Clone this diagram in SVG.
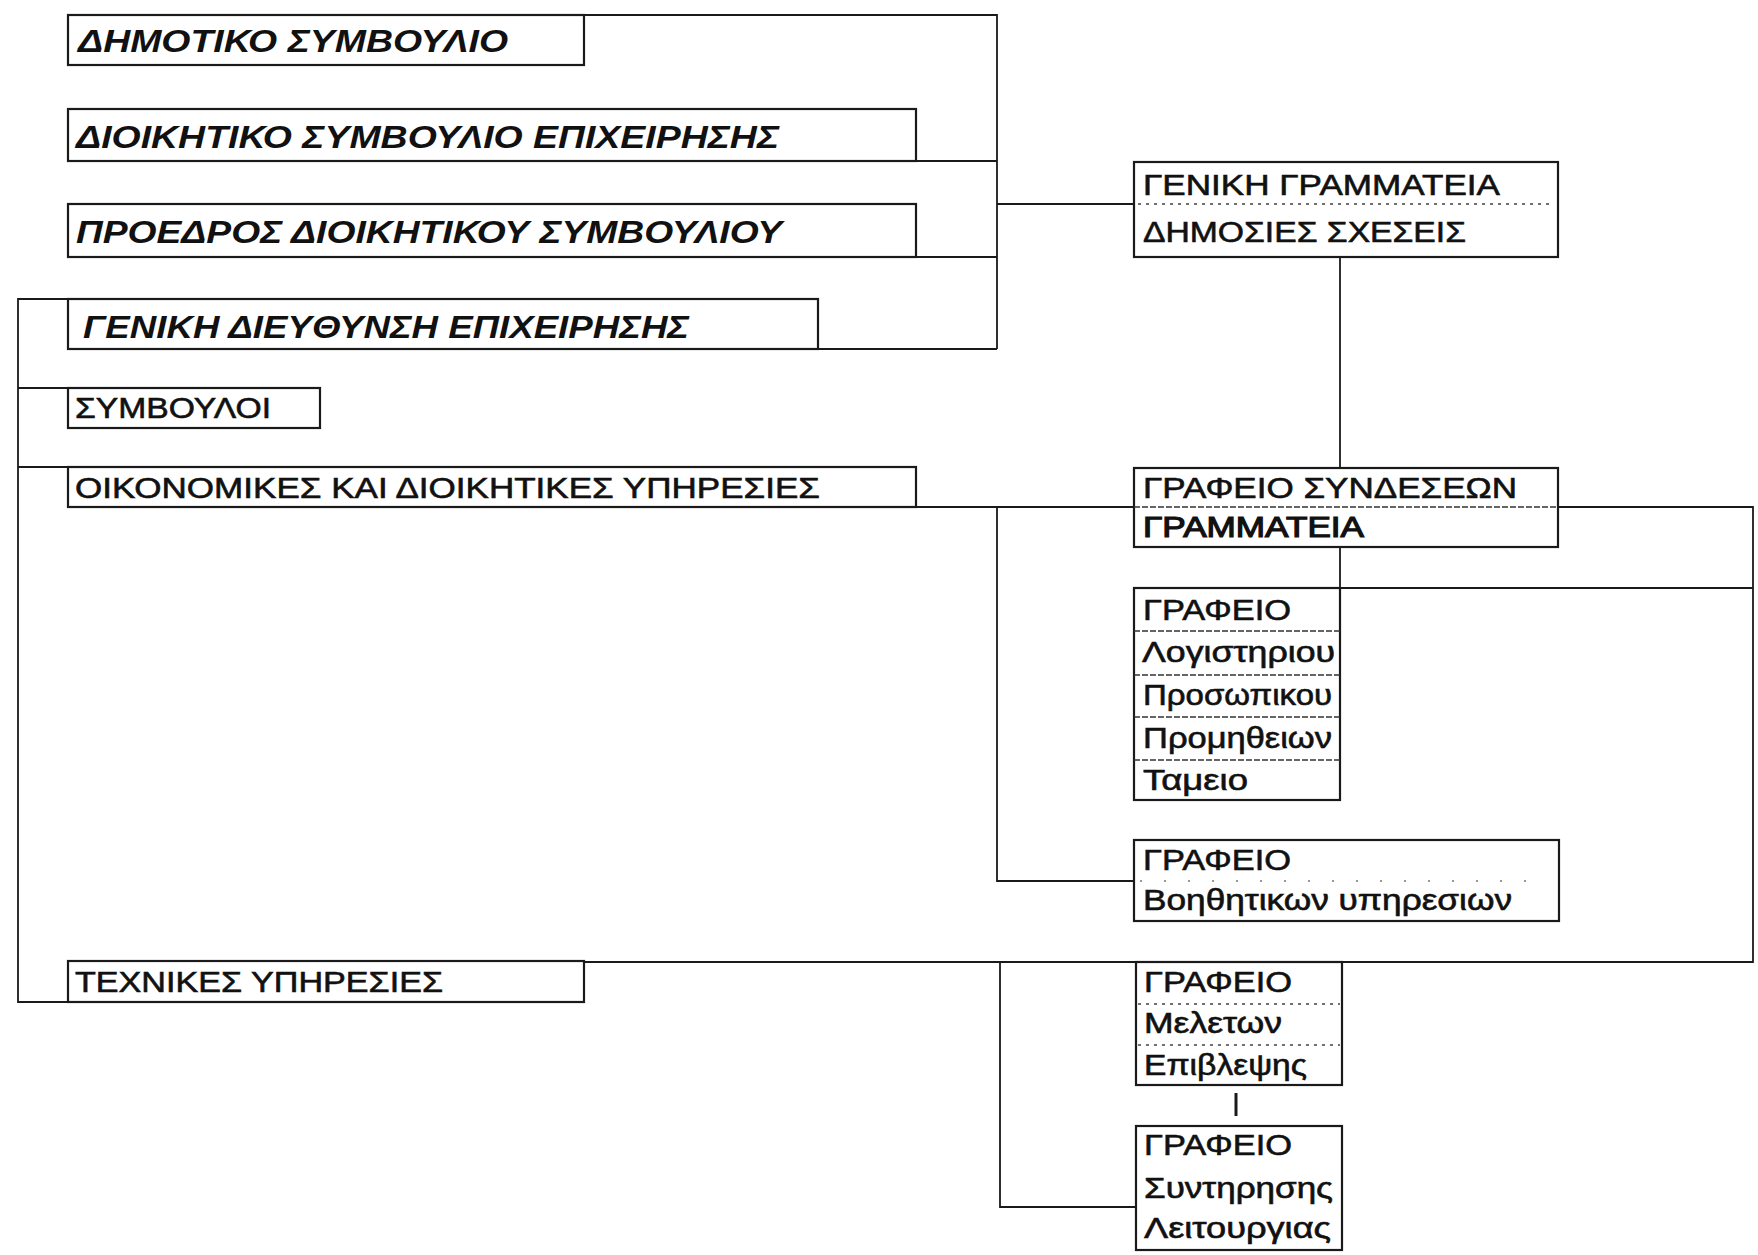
<svg xmlns="http://www.w3.org/2000/svg" width="1758" height="1255" viewBox="0 0 1758 1255">
<style>
.bg{fill:#ffffff}
.box{fill:#ffffff;stroke:#1a1a1a;stroke-width:2.2}
.con{fill:none;stroke:#1a1a1a;stroke-width:1.8}
.div{stroke:#333;stroke-width:1.5;stroke-dasharray:6 2}
.dot{stroke:#444;stroke-width:1.4;stroke-dasharray:3 5}
.it{font-family:"Liberation Sans",Arial,sans-serif;font-style:italic;font-weight:bold;font-size:32px;fill:#111}
.up{font-family:"Liberation Sans",Arial,sans-serif;font-size:29px;fill:#111;stroke:#111;stroke-width:0.6}
</style>
<rect class="bg" x="0" y="0" width="1758" height="1255"/>
<g id="connectors">
<path class="con" d="M584,15 H997 V349"/>
<path class="con" d="M916,161 H997"/>
<path class="con" d="M916,257 H997"/>
<path class="con" d="M818,349 H997"/>
<path class="con" d="M997,204 H1134"/>
<path class="con" d="M68,299 H18 V1002 H68"/>
<path class="con" d="M18,388 H68"/>
<path class="con" d="M18,467 H68"/>
<path class="con" d="M916,507 H1134"/>
<path class="con" d="M1558,507 H1753 V962 H584"/>
<path class="con" d="M997,507 V881 H1134"/>
<path class="con" d="M1340,257 V468"/>
<path class="con" d="M1340,547 V588 H1753"/>
<path class="con" d="M1000,962 V1207 H1136"/>
<path class="con" d="M1236,1093 V1116" style="stroke-width:3"/>
</g>
<g id="n1">
<rect class="box" x="68" y="15" width="516" height="50"/>
<text class="it" x="78" y="52" textLength="430" lengthAdjust="spacingAndGlyphs">ΔΗΜΟΤΙΚΟ ΣΥΜΒΟΥΛΙΟ</text>
</g>
<g id="n2">
<rect class="box" x="68" y="109" width="848" height="52"/>
<text class="it" x="76" y="148" textLength="703" lengthAdjust="spacingAndGlyphs">ΔΙΟΙΚΗΤΙΚΟ ΣΥΜΒΟΥΛΙΟ ΕΠΙΧΕΙΡΗΣΗΣ</text>
</g>
<g id="n3">
<rect class="box" x="68" y="204" width="848" height="53"/>
<text class="it" x="76" y="243" textLength="706" lengthAdjust="spacingAndGlyphs">ΠΡΟΕΔΡΟΣ ΔΙΟΙΚΗΤΙΚΟΥ ΣΥΜΒΟΥΛΙΟΥ</text>
</g>
<g id="n4">
<rect class="box" x="68" y="299" width="750" height="50"/>
<text class="it" x="83" y="338" textLength="606" lengthAdjust="spacingAndGlyphs">ΓΕΝΙΚΗ ΔΙΕΥΘΥΝΣΗ ΕΠΙΧΕΙΡΗΣΗΣ</text>
</g>
<g id="n5">
<rect class="box" x="68" y="388" width="252" height="40"/>
<text class="up" x="75" y="418" textLength="196" lengthAdjust="spacingAndGlyphs">ΣΥΜΒΟΥΛΟΙ</text>
</g>
<g id="n6">
<rect class="box" x="68" y="467" width="848" height="40"/>
<text class="up" x="75" y="498" textLength="745" lengthAdjust="spacingAndGlyphs">ΟΙΚΟΝΟΜΙΚΕΣ ΚΑΙ ΔΙΟΙΚΗΤΙΚΕΣ ΥΠΗΡΕΣΙΕΣ</text>
</g>
<g id="n7">
<rect class="box" x="68" y="961" width="516" height="41"/>
<text class="up" x="75" y="992" textLength="368" lengthAdjust="spacingAndGlyphs">ΤΕΧΝΙΚΕΣ ΥΠΗΡΕΣΙΕΣ</text>
</g>
<g id="n8">
<rect class="box" x="1134" y="162" width="424" height="95"/>
<line class="dot" x1="1138" y1="204" x2="1554" y2="204"/>
<text class="up" x="1143" y="195" textLength="357" lengthAdjust="spacingAndGlyphs">ΓΕΝΙΚΗ ΓΡΑΜΜΑΤΕΙΑ</text>
<text class="up" x="1143" y="242" textLength="323" lengthAdjust="spacingAndGlyphs">ΔΗΜΟΣΙΕΣ ΣΧΕΣΕΙΣ</text>
</g>
<g id="n9">
<rect class="box" x="1134" y="468" width="424" height="79"/>
<line class="div" x1="1134" y1="507" x2="1558" y2="507"/>
<text class="up" x="1143" y="498" textLength="374" lengthAdjust="spacingAndGlyphs">ΓΡΑΦΕΙΟ ΣΥΝΔΕΣΕΩΝ</text>
<text class="up" x="1143" y="537" textLength="221" lengthAdjust="spacingAndGlyphs" style="stroke-width:1.2">ΓΡΑΜΜΑΤΕΙΑ</text>
</g>
<g id="n10">
<rect class="box" x="1134" y="588" width="206" height="212"/>
<line class="div" x1="1134" y1="631" x2="1340" y2="631"/>
<line class="div" x1="1134" y1="675" x2="1340" y2="675"/>
<line class="div" x1="1134" y1="717" x2="1340" y2="717"/>
<line class="div" x1="1134" y1="760" x2="1340" y2="760"/>
<text class="up" x="1143" y="620" textLength="148" lengthAdjust="spacingAndGlyphs">ΓΡΑΦΕΙΟ</text>
<text class="up" x="1142" y="662" textLength="193" lengthAdjust="spacingAndGlyphs">Λογιστηριου</text>
<text class="up" x="1143" y="705" textLength="189" lengthAdjust="spacingAndGlyphs">Προσωπικου</text>
<text class="up" x="1143" y="748" textLength="189" lengthAdjust="spacingAndGlyphs">Προμηθειων</text>
<text class="up" x="1143" y="790" textLength="105" lengthAdjust="spacingAndGlyphs">Ταμειο</text>
</g>
<g id="n11">
<rect class="box" x="1134" y="840" width="425" height="81"/>
<line class="dot" x1="1140" y1="881" x2="1545" y2="881" style="stroke-dasharray:2 22;stroke:#777"/>
<text class="up" x="1143" y="870" textLength="148" lengthAdjust="spacingAndGlyphs">ΓΡΑΦΕΙΟ</text>
<text class="up" x="1143" y="910" textLength="369" lengthAdjust="spacingAndGlyphs">Βοηθητικων υπηρεσιων</text>
</g>
<g id="n12">
<rect class="box" x="1136" y="962" width="206" height="123"/>
<line class="dot" x1="1138" y1="1004" x2="1340" y2="1004"/>
<line class="dot" x1="1138" y1="1045" x2="1340" y2="1045"/>
<text class="up" x="1144" y="992" textLength="148" lengthAdjust="spacingAndGlyphs">ΓΡΑΦΕΙΟ</text>
<text class="up" x="1144" y="1033" textLength="138" lengthAdjust="spacingAndGlyphs">Μελετων</text>
<text class="up" x="1144" y="1075" textLength="163" lengthAdjust="spacingAndGlyphs">Επιβλεψης</text>
</g>
<g id="n13">
<rect class="box" x="1136" y="1126" width="206" height="124"/>
<text class="up" x="1144" y="1155" textLength="148" lengthAdjust="spacingAndGlyphs">ΓΡΑΦΕΙΟ</text>
<text class="up" x="1144" y="1198" textLength="189" lengthAdjust="spacingAndGlyphs">Συντηρησης</text>
<text class="up" x="1144" y="1238" textLength="187" lengthAdjust="spacingAndGlyphs">Λειτουργιας</text>
</g>
</svg>
